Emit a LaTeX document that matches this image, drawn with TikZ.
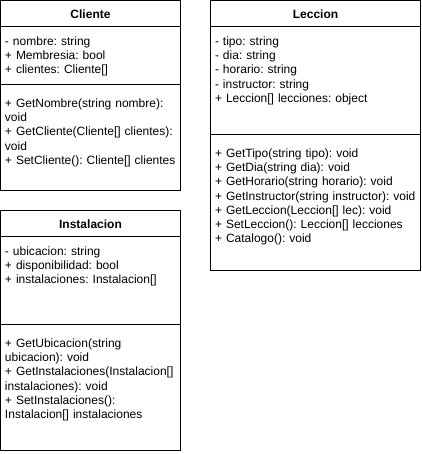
\documentclass[tikz,border=0pt]{standalone}
\usepackage{fontspec}
\setmainfont{Liberation Sans}
\frenchspacing
\begin{document}
\begin{tikzpicture}[x=1pt,y=-1pt,line width=1pt,
  box/.style={draw,fill=white,anchor=north west,inner sep=0,outer sep=0},
  title/.style={font=\bfseries\fontsize{12}{14}\selectfont,inner sep=0},
  body/.style={font=\frenchspacing\fontsize{12}{14.2}\selectfont,anchor=base west,text width=260pt,align=left,inner sep=0}]
\useasboundingbox (0,0) rectangle (421,454);
% Cliente
\node[box,minimum width=180pt,minimum height=190pt] (cliente) at (0.5,0.5) {};
\draw (0.5,26.5) -- (180.5,26.5);
\draw (0.5,84.5) -- (180.5,84.5);
\node[title] (clienteT) at (90.5,14) {Cliente};
\node[body] (clienteA) at (4.5,45.5) {- nombre: string\\+ Membresia: bool\\+ clientes: Cliente[]};
\node[body] (clienteM) at (4.5,107.5) {+ GetNombre(string nombre):\\void\\+ GetCliente(Cliente[] clientes):\\void\\+ SetCliente(): Cliente[] clientes};
% Leccion
\node[box,minimum width=210pt,minimum height=270pt] (leccion) at (210.5,0.5) {};
\draw (210.5,26.5) -- (420.5,26.5);
\draw (210.5,134.5) -- (420.5,134.5);
\node[title] (leccionT) at (315.5,14) {Leccion};
\node[body] (leccionA) at (214.5,45.5) {- tipo: string\\- dia: string\\- horario: string\\- instructor: string\\+ Leccion[] lecciones: object};
\node[body] (leccionM) at (214.5,157.5) {+ GetTipo(string tipo): void\\+ GetDia(string dia): void\\+ GetHorario(string horario): void\\+ GetInstructor(string instructor): void\\+ GetLeccion(Leccion[] lec): void\\+ SetLeccion(): Leccion[] lecciones\\+ Catalogo(): void};
% Instalacion
\node[box,minimum width=180pt,minimum height=240pt] (instalacion) at (0.5,210.5) {};
\draw (0.5,236.5) -- (180.5,236.5);
\draw (0.5,324.5) -- (180.5,324.5);
\node[title] (instalacionT) at (90.5,224) {Instalacion};
\node[body] (instalacionA) at (4.5,255.5) {- ubicacion: string\\+ disponibilidad: bool\\+ instalaciones: Instalacion[]};
\node[body] (instalacionM) at (4.5,347.5) {+ GetUbicacion(string\\ubicacion): void\\+ GetInstalaciones(Instalacion[]\\instalaciones): void\\+ SetInstalaciones():\\Instalacion[] instalaciones};
\end{tikzpicture}
\end{document}
